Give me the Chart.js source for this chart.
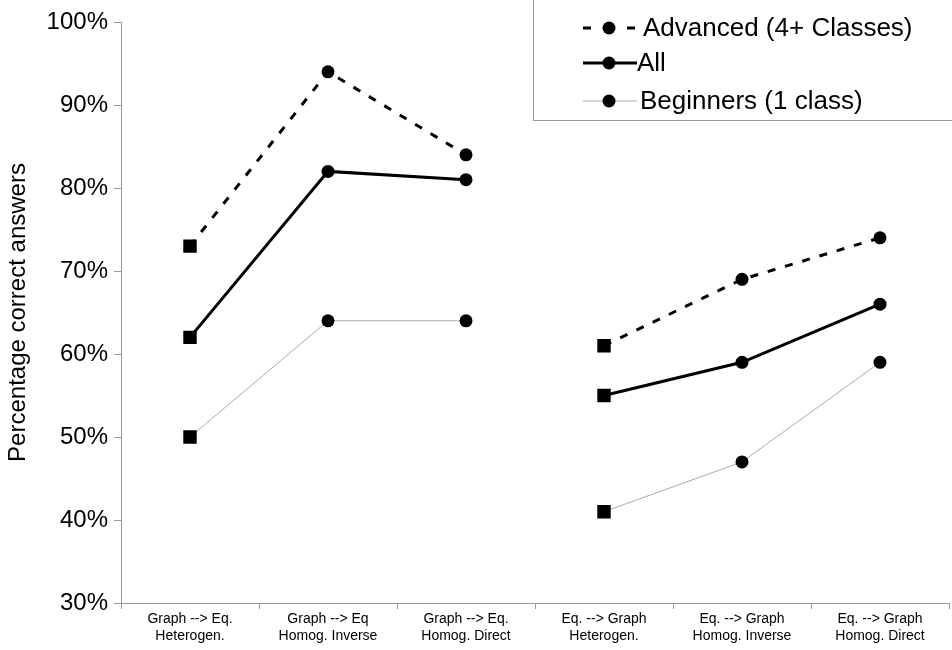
<!DOCTYPE html>
<html>
<head>
<meta charset="utf-8">
<script src="https://cdn.jsdelivr.net/npm/chart.js@4"></script>
<style>
  html, body { margin: 0; padding: 0; background: #fff; }
  #wrap { width: 952px; height: 650px; position: relative; }
</style>
</head>
<body>
<div id="wrap"><canvas id="chart" width="952" height="650"></canvas></div>
<script>
// categories (two lines each)
const categories = [
    ["Graph --> Eq.", "Heterogen."],
    ["Graph --> Eq", "Homog. Inverse"],
    ["Graph --> Eq.", "Homog. Direct"],
    ["Eq. --> Graph", "Heterogen."],
    ["Eq. --> Graph", "Homog. Inverse"],
    ["Eq. --> Graph", "Homog. Direct"]
];

// percentages
const advanced = [73, 94, 84, 61, 69, 74];
const all = [62, 82, 81, 55, 59, 66];
const beginners = [50, 64, 64, 41, 47, 59];

const seriesNames = ["Advanced (4+ Classes)", "All", "Beginners (1 class)"];
const yTicks = [30, 40, 50, 60, 70, 80, 90, 100];

// no line between the two groups
const breakAfter = 2;

const markerStyle = ["rect", "circle", "circle", "rect", "circle", "circle"];
const markerSize = [9.5, 6.5, 6.5, 9.5, 6.5, 6.5];

function makeDataset(label, values, color, width, dash) {
    return {
        label: label,
        data: values,
        borderColor: color,
        borderWidth: width,
        borderDash: dash,
        backgroundColor: "#000",
        pointBackgroundColor: "#000",
        pointBorderColor: "#000",
        pointBorderWidth: 0,
        pointStyle: markerStyle,
        pointRadius: markerSize,
        tension: 0,
        segment: {
            borderColor: ctx => ctx.p0DataIndex === breakAfter ? "rgba(0,0,0,0)" : undefined
        }
    };
}

// legend box drawn inside the plot, like the original
const boxLegend = {
    id: "boxLegend",
    afterDraw(chart) {
        const ctx = chart.ctx;
        ctx.save();
        ctx.fillStyle = "#fff";
        ctx.fillRect(533, 0, 430, 121);
        ctx.strokeStyle = "#999";
        ctx.lineWidth = 1;
        ctx.strokeRect(533.5, -1, 430, 121.5);

        const rows = [
            { y: 28, textX: 643, color: "#000", width: 3, dash: [8, 14] },
            { y: 63, textX: 637, color: "#000", width: 3, dash: [] },
            { y: 101, textX: 640, color: "#aaa", width: 1, dash: [] }
        ];
        rows.forEach((r, i) => {
            ctx.beginPath();
            ctx.setLineDash(r.dash);
            ctx.strokeStyle = r.color;
            ctx.lineWidth = r.width;
            ctx.moveTo(583, r.y);
            ctx.lineTo(637, r.y);
            ctx.stroke();
            ctx.setLineDash([]);
            ctx.beginPath();
            ctx.fillStyle = "#000";
            ctx.arc(609, r.y, 6.5, 0, Math.PI * 2);
            ctx.fill();
            ctx.font = "26px 'Liberation Sans', Arial, sans-serif";
            ctx.textBaseline = "middle";
            ctx.textAlign = "left";
            ctx.fillText(seriesNames[i], r.textX, r.y + 1);
        });
        ctx.restore();
    }
};

new Chart(document.getElementById("chart"), {
    type: "line",
    data: {
        labels: categories,
        datasets: [
            makeDataset(seriesNames[0], advanced, "#000", 3, [8, 10]),
            makeDataset(seriesNames[1], all, "#000", 3, []),
            makeDataset(seriesNames[2], beginners, "#aaa", 1, [])
        ]
    },
    plugins: [boxLegend],
    options: {
        responsive: false,
        animation: false,
        devicePixelRatio: 1,
        layout: { autoPadding: false, padding: { top: 22, right: 3, left: 0, bottom: 0 } },
        plugins: {
            legend: { display: false },
            tooltip: { enabled: false }
        },
        scales: {
            x: {
                type: "category",
                offset: true,
                border: { color: "#999", width: 1 },
                grid: { offset: true, drawOnChartArea: false, drawTicks: true, tickLength: 6, color: "#999" },
                ticks: {
                    color: "#000",
                    font: { family: "'Liberation Sans', Arial", size: 14 },
                    maxRotation: 0,
                    autoSkip: false,
                    padding: 2
                },
                afterFit(scale) {
                    scale.height = 47;
                    scale.paddingLeft = 0;
                    scale.paddingRight = 0;
                }
            },
            y: {
                min: 30,
                max: 100,
                afterBuildTicks(scale) { scale.ticks = yTicks.map(v => ({ value: v })); },
                border: { color: "#999", width: 1 },
                grid: { drawOnChartArea: false, drawTicks: true, tickLength: 7, color: "#999" },
                ticks: {
                    color: "#000",
                    font: { family: "'Liberation Sans', Arial", size: 24 },
                    padding: 6,
                    callback: v => v + "%"
                },
                title: {
                    display: true,
                    text: "Percentage correct answers",
                    color: "#000",
                    font: { family: "'Liberation Sans', Arial", size: 24 },
                    padding: { top: 4, bottom: 0 }
                },
                afterFit(scale) { scale.width = 121; }
            }
        }
    }
});
</script>
</body>
</html>
